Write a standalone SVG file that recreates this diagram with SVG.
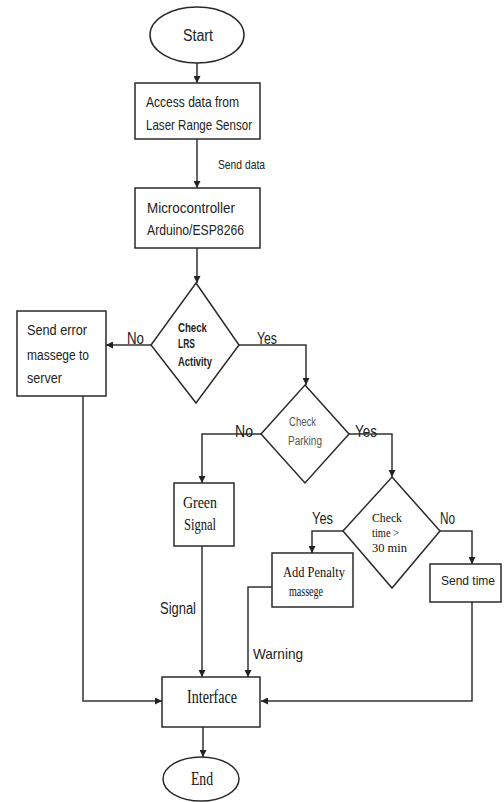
<svg xmlns="http://www.w3.org/2000/svg" width="504" height="802" viewBox="0 0 504 802">
<style>
.sh{fill:#fff;stroke:#2a2a2a;stroke-width:1.5}
.ln{fill:none;stroke:#333;stroke-width:1.5}
.sa{font-family:"Liberation Sans",Arial,sans-serif;fill:#222}
.se{font-family:"Liberation Serif","Times New Roman",serif;fill:#111}
</style>
<defs>
<marker id="ar" viewBox="0 0 10 10" refX="10" refY="5" markerWidth="7" markerHeight="7" markerUnits="userSpaceOnUse" orient="auto">
<path d="M0,0 L10,5 L0,10 z" fill="#222"/>
</marker>
</defs>
<rect width="504" height="802" fill="#fff"/>
<g id="connectors">
<line class="ln" x1="197" y1="63" x2="197" y2="83" marker-end="url(#ar)"/>
<line class="ln" x1="197" y1="139" x2="197" y2="188" marker-end="url(#ar)"/>
<line class="ln" x1="197" y1="248" x2="197" y2="283" marker-end="url(#ar)"/>
<line class="ln" x1="151" y1="345" x2="106" y2="345" marker-end="url(#ar)"/>
<polyline class="ln" points="239,345 306,345 306,385" marker-end="url(#ar)"/>
<polyline class="ln" points="83,396 83,701 162,701" marker-end="url(#ar)"/>
<polyline class="ln" points="261,434 202,434 202,483" marker-end="url(#ar)"/>
<polyline class="ln" points="349,434 392,434 392,477" marker-end="url(#ar)"/>
<line class="ln" x1="202" y1="546" x2="202" y2="677" marker-end="url(#ar)"/>
<polyline class="ln" points="343,531 312,531 312,553" marker-end="url(#ar)"/>
<polyline class="ln" points="440,531 472,531 472,564" marker-end="url(#ar)"/>
<polyline class="ln" points="272,587 248,587 248,677" marker-end="url(#ar)"/>
<polyline class="ln" points="472,602 472,701 261,701" marker-end="url(#ar)"/>
<line class="ln" x1="203" y1="727" x2="203" y2="757" marker-end="url(#ar)"/>
<text class="sa" x="218" y="169" font-size="13" textLength="47" lengthAdjust="spacingAndGlyphs">Send data</text>
<text class="sa" x="127" y="344" font-size="16" textLength="17" lengthAdjust="spacingAndGlyphs">No</text>
<text class="sa" x="257" y="344" font-size="16" textLength="20" lengthAdjust="spacingAndGlyphs">Yes</text>
<text class="sa" x="235" y="437" font-size="16" textLength="18" lengthAdjust="spacingAndGlyphs">No</text>
<text class="sa" x="355" y="437" font-size="16" textLength="22" lengthAdjust="spacingAndGlyphs">Yes</text>
<text class="sa" x="312" y="524" font-size="16" textLength="21" lengthAdjust="spacingAndGlyphs">Yes</text>
<text class="sa" x="440" y="524" font-size="16" textLength="15" lengthAdjust="spacingAndGlyphs">No</text>
<text class="sa" x="160" y="614" font-size="16" textLength="36" lengthAdjust="spacingAndGlyphs">Signal</text>
<text class="sa" x="253" y="659" font-size="15" textLength="50" lengthAdjust="spacingAndGlyphs">Warning</text>
</g>
<g id="start">
<ellipse class="sh" cx="197" cy="35" rx="47" ry="28"/>
<text class="sa" x="183" y="41" font-size="16" textLength="30" lengthAdjust="spacingAndGlyphs">Start</text>
</g>
<g id="access-data">
<rect class="sh" x="135" y="83" width="125" height="56"/>
<text class="sa" x="146" y="107" font-size="14.5" textLength="93" lengthAdjust="spacingAndGlyphs">Access data from</text>
<text class="sa" x="146" y="130" font-size="14.5" textLength="106" lengthAdjust="spacingAndGlyphs">Laser Range Sensor</text>
</g>
<g id="microcontroller">
<rect class="sh" x="135" y="188" width="125" height="60"/>
<text class="sa" x="147" y="213" font-size="14.5" textLength="88" lengthAdjust="spacingAndGlyphs">Microcontroller</text>
<text class="sa" x="147" y="235" font-size="14.5" textLength="97" lengthAdjust="spacingAndGlyphs">Arduino/ESP8266</text>
</g>
<g id="check-lrs">
<polygon class="sh" points="196,283 239,345 196,403 151,345"/>
<text class="sa" x="178" y="332" font-size="12" font-weight="bold" textLength="29" lengthAdjust="spacingAndGlyphs">Check</text>
<text class="sa" x="178" y="348" font-size="12" font-weight="bold" textLength="17" lengthAdjust="spacingAndGlyphs">LRS</text>
<text class="sa" x="178" y="366" font-size="12" font-weight="bold" textLength="34" lengthAdjust="spacingAndGlyphs">Activity</text>
</g>
<g id="send-error">
<rect class="sh" x="17" y="311" width="89" height="85"/>
<text class="sa" x="27" y="335" font-size="14" textLength="60" lengthAdjust="spacingAndGlyphs">Send error</text>
<text class="sa" x="27" y="360" font-size="14" textLength="62" lengthAdjust="spacingAndGlyphs">massege to</text>
<text class="sa" x="27" y="383" font-size="14" textLength="35" lengthAdjust="spacingAndGlyphs">server</text>
</g>
<g id="check-parking">
<polygon class="sh" points="305,385 349,434 305,483 261,434"/>
<text class="sa" x="289" y="426" font-size="12" style="fill:#555" textLength="27" lengthAdjust="spacingAndGlyphs">Check</text>
<text class="sa" x="288" y="445" font-size="12" style="fill:#555" textLength="34" lengthAdjust="spacingAndGlyphs">Parking</text>
</g>
<g id="green-signal">
<rect class="sh" x="174" y="483" width="60" height="63"/>
<text class="se" x="183" y="508" font-size="17" textLength="34" lengthAdjust="spacingAndGlyphs">Green</text>
<text class="se" x="184" y="530" font-size="17" textLength="32" lengthAdjust="spacingAndGlyphs">Signal</text>
</g>
<g id="check-time">
<polygon class="sh" points="392,477 440,531 392,588 343,531"/>
<text class="se" x="372" y="522" font-size="13" textLength="30" lengthAdjust="spacingAndGlyphs">Check</text>
<text class="se" x="372" y="537" font-size="13" textLength="27" lengthAdjust="spacingAndGlyphs">time &gt;</text>
<text class="se" x="372" y="552" font-size="13" textLength="35" lengthAdjust="spacingAndGlyphs">30 min</text>
</g>
<g id="add-penalty">
<rect class="sh" x="272" y="553" width="81" height="54"/>
<text class="se" x="283" y="577" font-size="15" textLength="62" lengthAdjust="spacingAndGlyphs">Add Penalty</text>
<text class="se" x="289" y="596" font-size="15" textLength="34" lengthAdjust="spacingAndGlyphs">massege</text>
</g>
<g id="send-time">
<rect class="sh" x="430" y="564" width="71" height="38"/>
<text class="sa" x="441" y="585" font-size="13" textLength="54" lengthAdjust="spacingAndGlyphs">Send time</text>
</g>
<g id="interface">
<rect class="sh" x="162" y="677" width="98" height="50"/>
<text class="se" x="187" y="703" font-size="18" textLength="50" lengthAdjust="spacingAndGlyphs">Interface</text>
</g>
<g id="end">
<ellipse class="sh" cx="201" cy="779" rx="38" ry="22"/>
<text class="se" x="191" y="785" font-size="18" textLength="22" lengthAdjust="spacingAndGlyphs">End</text>
</g>
</svg>
